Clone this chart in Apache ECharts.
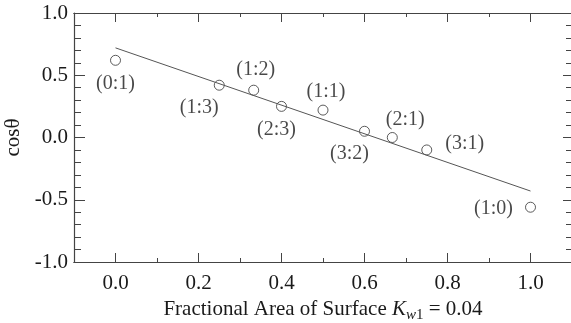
<!DOCTYPE html>
<html>
<head>
<meta charset="utf-8">
<script src="https://cdn.jsdelivr.net/npm/echarts@6/dist/echarts.min.js"></script>
<style>
  html, body { margin: 0; padding: 0; background: #fff; }
  #chart { width: 571px; height: 323px; }
</style>
</head>
<body>
<div id="chart"></div>
<script>
// measured points: fractional area vs cos(theta)
const fraction = [0, 0.25, 0.333, 0.4, 0.5, 0.6, 0.667, 0.75, 1.0];
const cosTheta = [0.62, 0.42, 0.38, 0.25, 0.22, 0.05, 0.0, -0.10, -0.56];
const ratioLabels = ['(0:1)', '(1:3)', '(1:2)', '(2:3)', '(1:1)', '(3:2)', '(2:1)', '(3:1)', '(1:0)'];

// fitted line end points
const fitX = [0, 1.0];
const fitY = [0.72, -0.43];

const xMajorTicks = [0, 0.2, 0.4, 0.6, 0.8, 1.0];
const xMinorTicks = [0.1, 0.3, 0.5, 0.7, 0.9];

// where each label sits relative to its circle (px)
const labelOffsets = [[0, 23], [-20, 23], [2, -20], [-5, 23], [3, -18], [-15, 22], [13, -18], [38, -6], [-37, 2]];

const FONT = "'Liberation Serif', 'Times New Roman', serif";
const INK = '#1a1a1a';
const AXIS = '#444';

const chart = echarts.init(document.getElementById('chart'));

const xBase = {
  type: 'value',
  min: -0.1,
  max: 1.1,
  splitLine: { show: false },
  axisLine: { show: true, onZero: false, lineStyle: { color: AXIS, width: 1.2 } },
};

const option = {
  animation: false,
  grid: { left: 74, top: 13, right: -1, bottom: 61, containLabel: false, outerBoundsMode: 'none' },
  xAxis: [
    Object.assign({}, xBase, {
      position: 'bottom',
      name: 'Fractional Area of Surface {i|K}{sub|w}{subn|1} = 0.04',
      nameLocation: 'middle',
      nameGap: 30,
      nameTextStyle: {
        fontFamily: FONT, fontSize: 21, color: INK,
        rich: {
          i: { fontFamily: FONT, fontSize: 21, fontStyle: 'italic', color: INK },
          sub: { fontFamily: FONT, fontSize: 15, fontStyle: 'italic', color: INK, verticalAlign: 'bottom', padding: [12, 0, 0, 0] },
          subn: { fontFamily: FONT, fontSize: 15, color: INK, verticalAlign: 'bottom', padding: [12, 0, 0, 0] },
        },
      },
      axisTick: { show: true, inside: true, length: 9, customValues: xMajorTicks, lineStyle: { color: AXIS } },
      axisLabel: {
        show: true, customValues: xMajorTicks, margin: 11,
        fontFamily: FONT, fontSize: 21, color: INK,
        formatter: (v) => v.toFixed(1),
      },
    }),
    Object.assign({}, xBase, {
      position: 'bottom',
      axisTick: { show: true, inside: true, length: 4, customValues: xMinorTicks, lineStyle: { color: AXIS } },
      axisLabel: { show: false },
    }),
    Object.assign({}, xBase, {
      position: 'top',
      axisTick: { show: true, inside: true, length: 9, customValues: xMajorTicks, lineStyle: { color: AXIS } },
      axisLabel: { show: false },
    }),
    Object.assign({}, xBase, {
      position: 'top',
      axisTick: { show: true, inside: true, length: 4, customValues: xMinorTicks, lineStyle: { color: AXIS } },
      axisLabel: { show: false },
    }),
  ],
  yAxis: [
    {
      type: 'value',
      position: 'left',
      min: -1,
      max: 1,
      interval: 0.5,
      name: 'cosθ',
      nameLocation: 'middle',
      nameGap: 50,
      nameTextStyle: { fontFamily: FONT, fontSize: 21, color: INK },
      splitLine: { show: false },
      axisLine: { show: true, onZero: false, lineStyle: { color: AXIS, width: 1.2 } },
      axisTick: { show: true, inside: true, length: 11, lineStyle: { color: AXIS } },
      minorTick: { show: true, splitNumber: 5, length: 7, lineStyle: { color: AXIS } },
      axisLabel: {
        margin: 6, fontFamily: FONT, fontSize: 21, color: INK,
        formatter: (v) => v.toFixed(1),
      },
    },
    {
      type: 'value',
      position: 'right',
      min: -1,
      max: 1,
      interval: 0.5,
      splitLine: { show: false },
      axisLine: { show: true, onZero: false, lineStyle: { color: AXIS, width: 1.2 } },
      axisTick: { show: true, inside: true, length: 9, lineStyle: { color: AXIS } },
      minorTick: { show: true, splitNumber: 5, length: 6, lineStyle: { color: AXIS } },
      axisLabel: { show: false },
    },
  ],
  series: [
    {
      type: 'line',
      xAxisIndex: 0,
      yAxisIndex: 0,
      data: fitX.map((x, i) => [x, fitY[i]]),
      showSymbol: false,
      lineStyle: { color: '#555', width: 1 },
      silent: true,
    },
    {
      type: 'scatter',
      xAxisIndex: 0,
      yAxisIndex: 0,
      symbol: 'circle',
      symbolSize: 10,
      itemStyle: { color: '#fff', borderColor: '#333', borderWidth: 1 },
      data: fraction.map((x, i) => ({
        value: [x, cosTheta[i]],
        label: {
          show: true,
          position: 'inside',
          offset: labelOffsets[i],
          formatter: ratioLabels[i],
          fontFamily: FONT,
          fontSize: 20,
          color: INK,
        },
      })),
    },
  ],
};

chart.setOption(option);
</script>
</body>
</html>
